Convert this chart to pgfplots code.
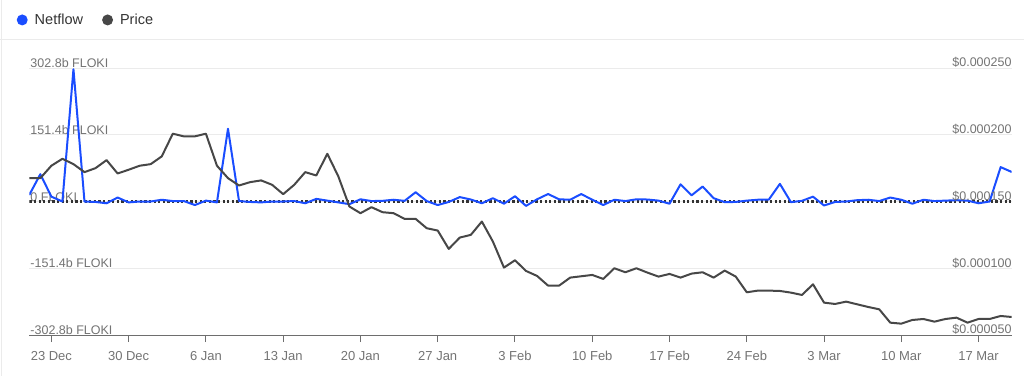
\documentclass[border=0pt]{standalone}
\usepackage{pgfplots}
\pgfplotsset{compat=1.18}
\usepackage{pgfplotstable}
\usepackage{fontspec}
\setmainfont{Liberation Sans}
\definecolor{netblue}{HTML}{1A4DFF}
\definecolor{pricegray}{HTML}{474747}
\definecolor{labgray}{HTML}{737373}
\definecolor{gridgray}{HTML}{EBEBEB}
\definecolor{axisgray}{HTML}{6E6E6E}
\definecolor{zerocol}{HTML}{333333}

\pgfplotstableread{
day netflow price
-2 15 0.0001675
-1 62 0.0001675
0 11 0.0001768
1 0 0.000182
2 300 0.000178
3 0 0.000172
4 -1 0.000175
5 -4 0.000181
6 9 0.000171
7 -2 0.0001738
8 0 0.0001768
9 0 0.000178
10 4 0.0001838
11 1 0.0002008
12 1 0.0001988
13 -8 0.0001988
14 2 0.0002008
15 -2 0.0001768
16 165 0.0001675
17 1 0.000162
18 -1 0.0001645
19 -2 0.0001658
20 0 0.0001625
21 0 0.0001555
22 1 0.0001625
23 -4 0.000172
24 6 0.0001695
25 2 0.00018575
26 -2 0.00016875
27 -6 0.00014625
28 5 0.00014125
29 1 0.00014575
30 1.5 0.000142
31 4 0.00014125
32 1.5 0.000137
33 21 0.000137
34 1 0.000130
35 -8 0.00012825
36 -1 0.0001145
37 10 0.000123
38 4.5 0.000125
39 -4 0.000135
40 7.5 0.000120
41 -5 0.0001005
42 12 0.000106
43 -10 0.000098
44 5 0.00009425
45 17 0.000087
46 5 0.000087
47 4 0.000093
48 17 0.000094
49 4 0.000095
50 -8 0.000092
51 4 0.000100
52 1 0.000097
53 5 0.000100
54 4.5 0.00009675
55 2 0.00009375
56 -5 0.00009575
57 39 0.000093
58 14 0.000096
59 34 0.000097
60 7.5 0.000093
61 -1.5 0.00009825
62 -1 0.00009375
63 2 0.000082
64 4 0.00008325
65 4.5 0.00008325
66 40 0.000083
67 -1.5 0.00008175
68 1.5 0.000080
69 11 0.000088
70 -9 0.00007425
71 -1 0.00007325
72 0 0.000075
73 3 0.000073
74 4 0.000071
75 1 0.00006925
76 9 0.00005925
77 4 0.0000585
78 -5 0.00006125
79 4 0.000062
80 1 0.000060
81 2 0.000062
82 3 0.000063
83 2 0.00005925
84 -4 0.000062
85 0 0.000062
86 78 0.00006425
87 67 0.0000635
}\datatable

\begin{document}
\begin{tikzpicture}[x=1pt,y=1pt]
\useasboundingbox (0,0) rectangle (1024,-376);
\draw[gridgray, line width=1pt] (0,-39) -- (1024,-39);
\draw[gridgray, line width=1pt] (1,0) -- (1,-376);
\begin{axis}[
  at={(29.3pt,-335pt)}, anchor=south west,
  scale only axis, width=982.4pt, height=267pt,
  xmin=-2, xmax=87, ymin=-302.8, ymax=302.8,
  axis x line*=bottom, axis y line*=left,
  x axis line style={draw=axisgray, line width=1pt, -},
  y axis line style={draw=none},
  xtick={0,7,14,21,28,35,42,49,56,63,70,77,84},
  xticklabels={23 Dec,30 Dec,6 Jan,13 Jan,20 Jan,27 Jan,3 Feb,10 Feb,17 Feb,24 Feb,3 Mar,10 Mar,17 Mar},
  tick align=outside,
  major tick length=7pt,
  xtick style={draw=axisgray, line width=1pt},
  ytick style={draw=none},
  ytick={-302.8,-151.4,0,151.4,302.8},
  yticklabels={-302.8b FLOKI,-151.4b FLOKI,0 FLOKI,151.4b FLOKI,302.8b FLOKI},
  ymajorgrids, grid style={draw=gridgray, line width=1pt},
  xticklabel style={font=\fontsize{13}{15}\selectfont, text=labgray, yshift=-6pt},
  yticklabel style={font=\fontsize{12.5}{14}\selectfont, text=labgray, anchor=south west, inner sep=1pt, xshift=7pt, yshift=-1pt},
  legend style={draw=none, fill=none, at={(axis description cs:-0.013,1.18)}, anchor=west, inner sep=0pt,
    font=\fontsize{14.5}{16}\selectfont, text=black!80, legend columns=2,
    /tikz/every even column/.append style={column sep=17pt}},
  legend image code/.code={\fill[draw=none] (0pt,0pt) circle (5.5pt); \path[draw=none,fill=none] (0pt,0pt) rectangle (10.5pt,0.1pt);},
]
\addlegendimage{color=netblue}
\addlegendentry{Netflow}
\addlegendimage{color=pricegray}
\addlegendentry{Price}
\addplot[draw=zerocol, line width=2.3pt, dash pattern=on 2.3pt off 2.3pt, forget plot] coordinates {(-2,0) (87,0)};
\addplot[draw=netblue, line width=2pt, line join=round, forget plot] table[x=day, y=netflow] {\datatable};
\end{axis}
\begin{axis}[
  at={(29.3pt,-335pt)}, anchor=south west,
  scale only axis, width=982.4pt, height=267pt,
  xmin=-2, xmax=87, ymin=0.00005, ymax=0.00025,
  scaled y ticks=false,
  axis x line=none, axis y line*=right,
  y axis line style={draw=none},
  ytick style={draw=none},
  ytick={0.00005,0.0001,0.00015,0.0002,0.00025},
  yticklabels={\$0.000050,\$0.000100,\$0.000150,\$0.000200,\$0.000250},
  yticklabel style={font=\fontsize{12.5}{14}\selectfont, text=labgray, anchor=south east, inner sep=1pt, xshift=1pt, yshift=-1pt},
]
\addplot[draw=pricegray, line width=2pt, line join=round] table[x=day, y=price] {\datatable};
\end{axis}
\end{tikzpicture}
\end{document}
